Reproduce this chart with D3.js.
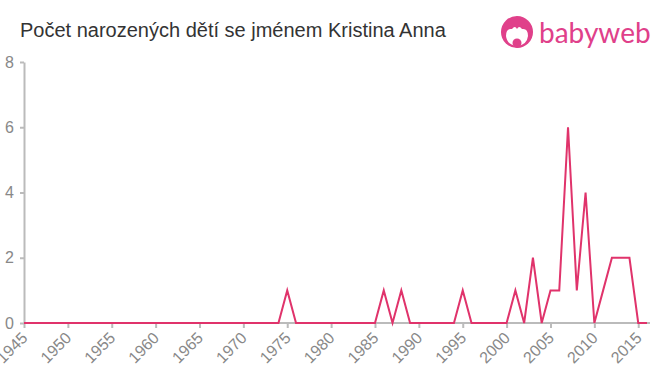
<!DOCTYPE html>
<html>
<head>
<meta charset="utf-8">
<script src="https://cdn.jsdelivr.net/npm/d3@7"></script>
<style>
  body { margin: 0; background: #fff; }
  svg { font-family: "Liberation Sans", Arial, sans-serif; }
</style>
</head>
<body>
<svg width="660" height="375"></svg>
<script>
const years = d3.range(1945, 2017);
const nonZero = { 1975: 1, 1986: 1, 1988: 1, 1995: 1, 2001: 1, 2003: 2, 2005: 1, 2006: 1,
  2007: 6, 2008: 1, 2009: 4, 2011: 1, 2012: 2, 2013: 2, 2014: 2 };
const counts = years.map(y => nonZero[y] || 0);
const xTicks = d3.range(1945, 2016, 5);
const yTicks = [0, 2, 4, 6, 8];

const svg = d3.select("svg");
const plotLeft = 24, plotRight = 647, plotTop = 62, plotBottom = 323;

const x = d3.scaleLinear().domain([1945, 2016]).range([plotLeft, plotRight]);
const y = d3.scaleLinear().domain([0, 8]).range([plotBottom, plotTop]);

svg.append("text")
    .attr("x", 20)
    .attr("y", 37)
    .attr("font-size", 20)
    .attr("fill", "#333")
    .text("Počet narozených dětí se jménem Kristina Anna");

// logo
const logo = svg.append("g").attr("transform", "translate(517, 32)");
logo.append("circle").attr("r", 16).attr("fill", "#e0408a");
logo.append("path")
    .attr("d", "M-11,4 Q-11,-4 -5,-3 Q-2,-7 0,-3 Q2,-7 5,-3 Q11,-4 11,4 Q10,13 0,14 Q-10,13 -11,4 Z")
    .attr("fill", "#fff");
logo.append("circle").attr("cy", 11).attr("r", 4.5).attr("fill", "#e0408a");
svg.append("text")
    .attr("x", 539)
    .attr("y", 43)
    .attr("font-family", "Lato, 'Open Sans', sans-serif")
    .attr("font-size", 28)
    .attr("fill", "#e0408a")
    .text("babyweb");

const xAxis = svg.append("g")
    .attr("transform", `translate(0, ${plotBottom})`)
    .call(d3.axisBottom(x).tickValues(xTicks).tickFormat(d3.format("d")).tickSize(5).tickSizeOuter(0));
xAxis.selectAll("text")
    .attr("font-size", 16)
    .attr("fill", "#888")
    .attr("text-anchor", "end")
    .attr("x", 0)
    .attr("y", 0)
    .attr("dy", "0.35em")
    .attr("transform", "translate(0, 12) rotate(-45)");

const yAxis = svg.append("g")
    .attr("transform", `translate(${plotLeft}, 0)`)
    .call(d3.axisLeft(y).tickValues(yTicks).tickSize(4).tickSizeOuter(0));
yAxis.selectAll("text")
    .attr("font-size", 16)
    .attr("fill", "#888")
    .attr("dx", "-0.2em");

svg.selectAll(".domain, .tick line").attr("stroke", "#bbb").attr("stroke-width", 2);
xAxis.select(".domain").attr("d", `M${plotLeft},0H${plotRight + 3}`);

svg.append("path")
    .datum(counts)
    .attr("fill", "none")
    .attr("stroke", "#e0336b")
    .attr("stroke-width", 2)
    .attr("stroke-linejoin", "miter")
    .attr("d", d3.line().x((d, i) => x(years[i])).y(d => y(d)));
</script>
</body>
</html>
